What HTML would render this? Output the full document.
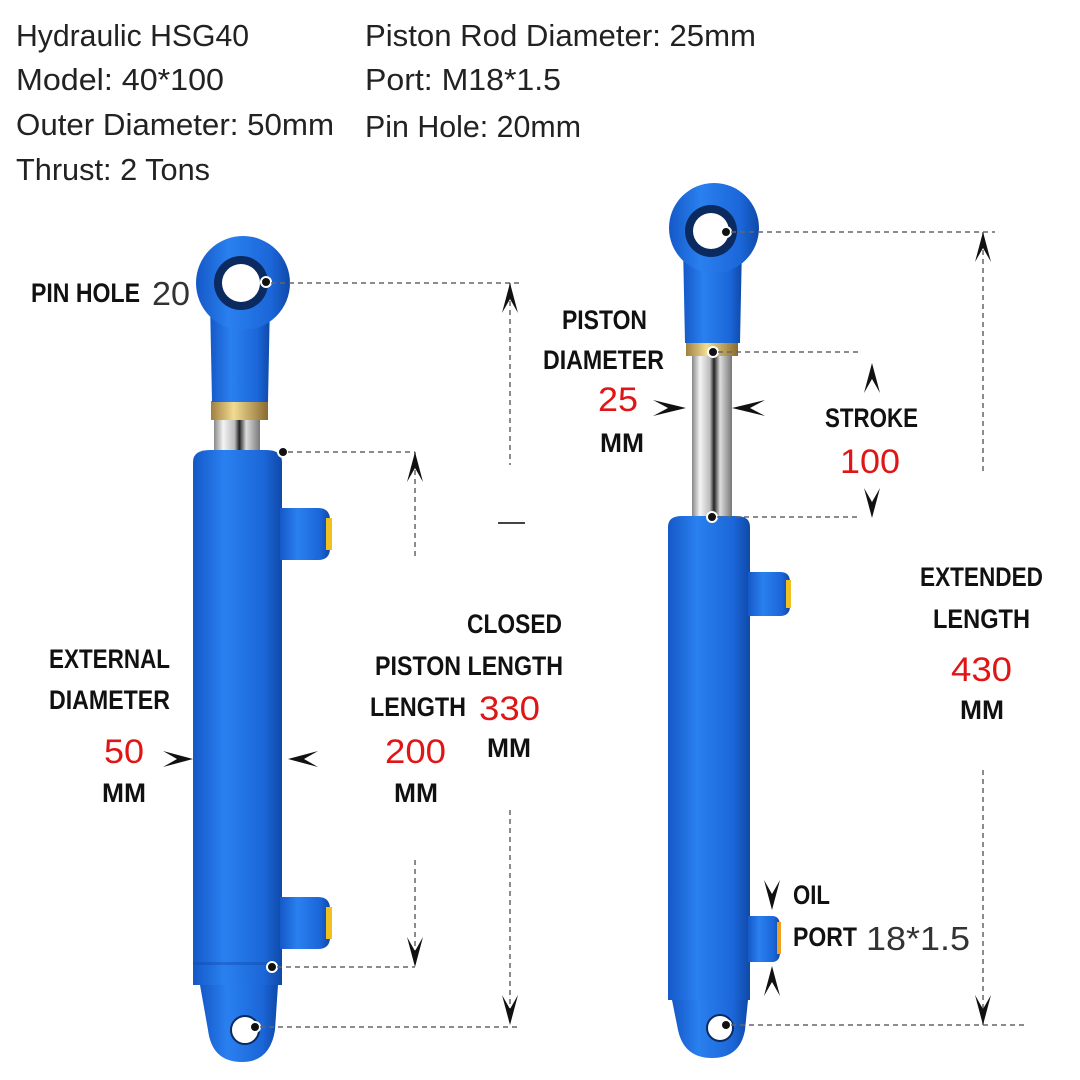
<!DOCTYPE html>
<html><head><meta charset="utf-8"><style>
html,body{margin:0;padding:0;background:#fff}
svg{display:block}
.h{font-family:"Liberation Sans",sans-serif;font-size:31px;fill:#222}
.b{font-family:"Liberation Sans",sans-serif;font-weight:bold;font-size:27px;fill:#111}
.r{font-family:"Liberation Sans",sans-serif;font-size:34px;fill:#e01515}
.g{font-family:"Liberation Sans",sans-serif;font-size:33px;fill:#333}
.d{stroke:#666;stroke-width:1.5;stroke-dasharray:5 4;fill:none}
</style></head><body>
<svg width="1080" height="1080" viewBox="0 0 1080 1080" xmlns="http://www.w3.org/2000/svg">
<defs>
<linearGradient id="bg" x1="0" x2="1"><stop offset="0" stop-color="#1558c8"/><stop offset="0.35" stop-color="#2a80ef"/><stop offset="0.8" stop-color="#1b66d8"/><stop offset="1" stop-color="#0f49a8"/></linearGradient>
<linearGradient id="rod" x1="0" x2="1"><stop offset="0" stop-color="#888"/><stop offset="0.2" stop-color="#f4f4f4"/><stop offset="0.45" stop-color="#bbb"/><stop offset="0.55" stop-color="#222"/><stop offset="0.7" stop-color="#ddd"/><stop offset="1" stop-color="#777"/></linearGradient>
<linearGradient id="nut" x1="0" x2="1"><stop offset="0" stop-color="#a08040"/><stop offset="0.4" stop-color="#f0dc90"/><stop offset="1" stop-color="#8a6a30"/></linearGradient>
</defs>
<!-- header -->
<text class="h" x="16" y="46" textLength="233" lengthAdjust="spacingAndGlyphs">Hydraulic HSG40</text>
<text class="h" x="16" y="90" textLength="208" lengthAdjust="spacingAndGlyphs">Model: 40*100</text>
<text class="h" x="16" y="135" textLength="318" lengthAdjust="spacingAndGlyphs">Outer Diameter: 50mm</text>
<text class="h" x="16" y="180" textLength="194" lengthAdjust="spacingAndGlyphs">Thrust: 2 Tons</text>
<text class="h" x="365" y="46" textLength="391" lengthAdjust="spacingAndGlyphs">Piston Rod Diameter: 25mm</text>
<text class="h" x="365" y="90" textLength="196" lengthAdjust="spacingAndGlyphs">Port: M18*1.5</text>
<text class="h" x="365" y="137" textLength="216" lengthAdjust="spacingAndGlyphs">Pin Hole: 20mm</text>

<!-- LEFT CYLINDER -->
<rect x="214" y="418" width="46" height="36" fill="url(#rod)"/>
<rect x="211" y="401" width="57" height="19" fill="url(#nut)"/>
<path d="M210 300 L270 300 L268 402 L212 402 Z" fill="url(#bg)"/>
<circle cx="243" cy="283" r="47" fill="url(#bg)"/>
<circle cx="241" cy="283" r="27" fill="#0a2a60"/>
<circle cx="241" cy="283" r="19" fill="#fff"/>
<path d="M193 462 Q193 450 210 450 L266 450 Q282 450 282 462 L282 985 L193 985 Z" fill="url(#bg)"/>
<rect x="193" y="962" width="89" height="3" fill="#0f49a8" opacity="0.4"/>
<path d="M280 508 L318 508 Q330 508 330 520 L330 548 Q330 560 318 560 L280 560 Z" fill="url(#bg)"/>
<rect x="326" y="518" width="6" height="32" fill="#f0c020"/>
<path d="M280 897 L318 897 Q330 897 330 909 L330 937 Q330 949 318 949 L280 949 Z" fill="url(#bg)"/>
<rect x="326" y="907" width="6" height="32" fill="#f0c020"/>
<path d="M200 985 L278 985 L275 1030 Q270 1062 242 1062 Q212 1062 208 1030 Z" fill="url(#bg)"/>
<circle cx="245" cy="1030" r="14" fill="#fff" stroke="#0a2a60" stroke-width="2"/>

<!-- RIGHT CYLINDER -->
<rect x="692" y="354" width="40" height="166" fill="url(#rod)"/>
<rect x="686" y="341" width="52" height="15" fill="url(#nut)"/>
<path d="M683 245 L742 245 L740 343 L685 343 Z" fill="url(#bg)"/>
<circle cx="714" cy="228" r="45" fill="url(#bg)"/>
<circle cx="711" cy="231" r="26" fill="#0a2a60"/>
<circle cx="711" cy="231" r="18" fill="#fff"/>
<path d="M668 527 Q668 516 682 516 L736 516 Q750 516 750 527 L750 1000 L668 1000 Z" fill="url(#bg)"/>
<path d="M748 572 L780 572 Q790 572 790 582 L790 606 Q790 616 780 616 L748 616 Z" fill="url(#bg)"/>
<rect x="786" y="580" width="5" height="28" fill="#f0c020"/>
<path d="M748 916 L772 916 Q780 916 780 926 L780 952 Q780 962 772 962 L748 962 Z" fill="url(#bg)"/>
<rect x="777" y="922" width="4" height="32" fill="#f0a020"/>
<path d="M672 1000 L748 1000 L745 1030 Q740 1058 712 1058 Q684 1058 678 1030 Z" fill="url(#bg)"/>
<circle cx="720" cy="1028" r="13" fill="#fff" stroke="#0a2a60" stroke-width="2"/>

<!-- dots -->
<g fill="#111" stroke="#fff" stroke-width="2">
<circle cx="266" cy="282" r="5"/><circle cx="283" cy="452" r="5"/><circle cx="272" cy="967" r="5"/><circle cx="255" cy="1027" r="5"/>
<circle cx="726" cy="232" r="5"/><circle cx="713" cy="352" r="5"/><circle cx="712" cy="517" r="5"/><circle cx="726" cy="1025" r="5"/>
</g>

<!-- dashed lines -->
<path class="d" d="M271 283 H520 M510 283 V465 M510 810 V1025 M260 1027 H520
M288 452 H415 M415 452 V560 M415 860 V967 M277 967 H415
M731 232 H995 M983 232 V475 M983 770 V1025 M731 1025 H1025
M718 352 H860 M717 517 H860"/>
<path d="M498 523 H525" stroke="#444" stroke-width="2"/>

<!-- arrowheads -->
<g fill="#111">
<path d="M502 313 L510 283 L518 313 L510 299 Z"/>
<path d="M502 995 L510 1025 L518 995 L510 1009 Z"/>
<path d="M407 482 L415 452 L423 482 L415 468 Z"/>
<path d="M407 937 L415 967 L423 937 L415 951 Z"/>
<path d="M975 262 L983 232 L991 262 L983 248 Z"/>
<path d="M975 995 L983 1025 L991 995 L983 1009 Z"/>
<path d="M864 393 L872 363 L880 393 L872 379 Z"/>
<path d="M864 488 L872 518 L880 488 L872 502 Z"/>
<path d="M764 880 L772 910 L780 880 L772 894 Z"/>
<path d="M764 996 L772 966 L780 996 L772 982 Z"/>
<path d="M163 751 L193 759 L163 767 L177 759 Z"/>
<path d="M318 751 L288 759 L318 767 L304 759 Z"/>
<path d="M653 400 L686 408 L653 416 L668 408 Z"/>
<path d="M765 400 L732 408 L765 416 L750 408 Z"/>
</g>

<!-- labels -->
<text class="b" x="31" y="302" textLength="109" lengthAdjust="spacingAndGlyphs">PIN HOLE</text>
<text class="g" x="152" y="305" textLength="38" lengthAdjust="spacingAndGlyphs">20</text>
<text class="b" x="49" y="668" textLength="121" lengthAdjust="spacingAndGlyphs">EXTERNAL</text>
<text class="b" x="49" y="709" textLength="121" lengthAdjust="spacingAndGlyphs">DIAMETER</text>
<text class="r" x="104" y="763" textLength="40" lengthAdjust="spacingAndGlyphs">50</text>
<text class="b" x="102" y="802" textLength="44" lengthAdjust="spacingAndGlyphs">MM</text>
<text class="b" x="467" y="633" textLength="95" lengthAdjust="spacingAndGlyphs">CLOSED</text>
<text class="b" x="375" y="675" textLength="188" lengthAdjust="spacingAndGlyphs">PISTON LENGTH</text>
<text class="b" x="370" y="716" textLength="96" lengthAdjust="spacingAndGlyphs">LENGTH</text>
<text class="r" x="479" y="720" textLength="61" lengthAdjust="spacingAndGlyphs">330</text>
<text class="b" x="487" y="757" textLength="44" lengthAdjust="spacingAndGlyphs">MM</text>
<text class="r" x="385" y="763" textLength="61" lengthAdjust="spacingAndGlyphs">200</text>
<text class="b" x="394" y="802" textLength="44" lengthAdjust="spacingAndGlyphs">MM</text>
<text class="b" x="562" y="329" textLength="85" lengthAdjust="spacingAndGlyphs">PISTON</text>
<text class="b" x="543" y="369" textLength="121" lengthAdjust="spacingAndGlyphs">DIAMETER</text>
<text class="r" x="598" y="411" textLength="40" lengthAdjust="spacingAndGlyphs">25</text>
<text class="b" x="600" y="452" textLength="44" lengthAdjust="spacingAndGlyphs">MM</text>
<text class="b" x="825" y="427" textLength="93" lengthAdjust="spacingAndGlyphs">STROKE</text>
<text class="r" x="840" y="473" textLength="60" lengthAdjust="spacingAndGlyphs">100</text>
<text class="b" x="920" y="586" textLength="123" lengthAdjust="spacingAndGlyphs">EXTENDED</text>
<text class="b" x="933" y="628" textLength="97" lengthAdjust="spacingAndGlyphs">LENGTH</text>
<text class="r" x="951" y="681" textLength="61" lengthAdjust="spacingAndGlyphs">430</text>
<text class="b" x="960" y="719" textLength="44" lengthAdjust="spacingAndGlyphs">MM</text>
<text class="b" x="793" y="904" textLength="37" lengthAdjust="spacingAndGlyphs">OIL</text>
<text class="b" x="793" y="946" textLength="64" lengthAdjust="spacingAndGlyphs">PORT</text>
<text class="g" x="866" y="950" textLength="104" lengthAdjust="spacingAndGlyphs">18*1.5</text>
</svg>
</body></html>
